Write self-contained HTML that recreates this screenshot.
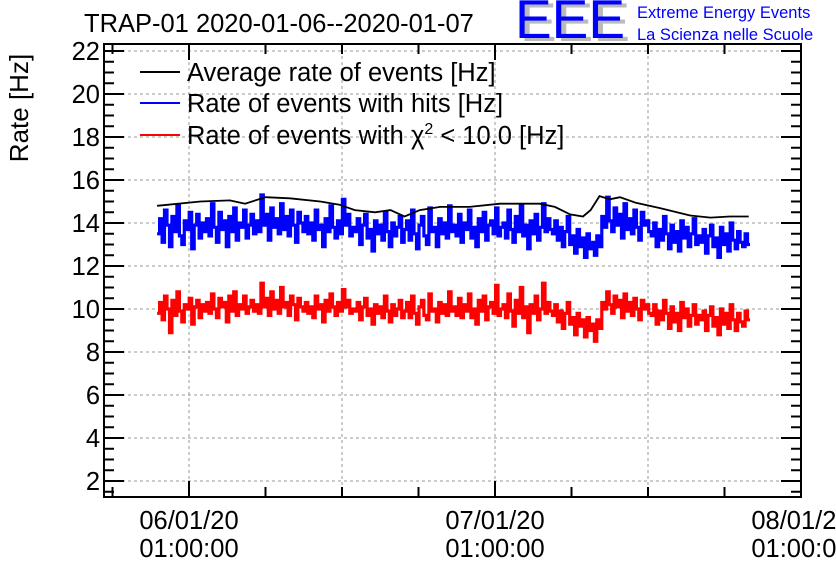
<!DOCTYPE html>
<html><head><meta charset="utf-8"><style>
body{margin:0;background:#fff;}
svg text{font-family:"Liberation Sans",sans-serif;}
</style></head><body>
<svg id="c" width="836" height="572" viewBox="0 0 836 572">
<rect x="0" y="0" width="836" height="572" fill="#fff"/>
<g id="grid"></g>
<g id="series"></g>
<g id="axes"></g>
<text x="84" y="32" font-size="25.5">TRAP-01 2020-01-06--2020-01-07</text>
<text transform="translate(28,108) rotate(-90)" font-size="26" text-anchor="middle">Rate [Hz]</text>
<g>
<text x="520" y="41" font-size="55" fill="#bbb">EEE</text>
<text x="515" y="38" font-size="55" fill="#0000ff">EEE</text>
<text x="637" y="18" font-size="16.5" fill="#0000ff">Extreme Energy Events</text>
<text x="637" y="40" font-size="16.5" fill="#0000ff">La Scienza nelle Scuole</text>
</g>
<g>
<line x1="140" y1="72" x2="180" y2="72" stroke="#000" stroke-width="2"/>
<text x="187" y="81" font-size="25.5">Average rate of events [Hz]</text>
<line x1="140" y1="103" x2="180" y2="103" stroke="#0000ff" stroke-width="2"/>
<text x="187" y="112" font-size="25.5">Rate of events with hits [Hz]</text>
<line x1="140" y1="135" x2="180" y2="135" stroke="#ff0000" stroke-width="2"/>
<text x="187" y="144" font-size="25.5">Rate of events with χ<tspan font-size="16" dy="-10">2</tspan><tspan dy="10"> &lt; 10.0 [Hz]</tspan></text>
</g>
</svg>
<script>
const yTicks=[2,4,6,8,10,12,14,16,18,20,22];
const xTickLabels=[["06/01/20","01:00:00"],["07/01/20","01:00:00"],["08/01/20","01:00:00"]];
const xTickHours=[0,24,48];
const binStart=-2.5, binEnd=44.0;
const hitsRate=[13.5,14.2,13.1,14.6,13.9,12.9,14.3,13.6,14.8,13.4,13.0,14.1,13.7,14.5,12.8,13.9,14.4,13.3,14.0,13.6,
14.2,13.4,14.9,13.8,13.1,14.5,13.7,14.1,12.9,14.3,13.6,14.7,13.2,14.0,13.8,14.6,13.3,13.9,14.4,13.5,
14.1,13.6,15.3,13.9,14.4,13.2,14.7,13.8,14.2,13.5,14.9,13.7,14.3,13.4,14.6,13.9,13.1,14.5,14.0,13.6,
14.3,13.5,14.0,13.2,14.6,13.7,13.9,12.9,14.2,13.6,14.8,13.8,13.3,14.1,13.5,15.1,13.9,14.4,13.4,13.8,
13.6,14.2,13.0,13.9,14.4,13.3,13.7,12.7,14.1,13.5,13.9,13.2,14.5,13.6,12.9,14.0,13.4,13.8,14.3,13.1,
13.7,14.1,13.2,14.6,13.5,12.8,13.9,14.3,13.4,13.0,14.7,13.6,13.8,12.9,14.2,13.5,14.0,13.3,14.8,13.6,
13.9,13.4,14.4,13.1,14.0,13.7,14.6,13.3,13.8,12.9,14.2,13.6,14.5,13.2,13.9,14.1,13.5,14.7,13.4,13.8,
14.0,13.3,14.6,13.7,13.1,14.3,13.6,14.8,13.4,13.9,12.8,14.1,13.5,14.4,13.2,13.8,14.9,13.6,14.2,13.7,
13.5,14.1,13.2,13.8,12.9,13.6,14.3,13.0,13.4,12.6,13.7,12.9,13.3,12.4,13.5,12.8,13.1,12.5,13.4,12.9,
14.3,13.8,15.2,14.1,13.6,14.7,13.9,14.4,13.3,14.9,13.7,14.2,13.5,14.6,13.8,13.2,14.5,13.9,14.1,13.6,
13.4,14.0,12.9,13.7,13.2,14.3,13.5,12.8,13.9,13.1,13.6,12.7,14.1,13.3,13.8,12.9,13.5,14.2,13.0,13.4,
13.1,13.7,12.6,13.4,13.9,12.9,13.3,12.4,13.8,13.0,13.5,12.7,14.0,13.2,12.8,13.6,13.1,12.9,13.5,13.0];
const chi2Rate=[9.8,10.3,9.5,10.6,10.0,8.9,10.4,9.7,10.8,9.9,9.4,10.2,10.0,10.5,9.3,10.1,10.4,9.6,10.2,9.9,
10.3,9.8,10.7,10.0,9.6,10.5,10.1,10.3,9.4,10.6,9.9,10.8,9.7,10.2,10.0,10.6,9.8,10.1,10.4,9.9,
10.2,9.8,11.2,10.1,10.5,9.7,10.8,10.0,10.4,9.8,11.0,10.1,10.3,9.7,10.6,10.2,9.5,10.5,10.1,9.9,
10.3,9.8,10.1,9.6,10.6,10.0,10.2,9.4,10.4,9.9,10.7,10.1,9.7,10.3,9.9,10.9,10.1,10.4,9.8,10.0,
9.9,10.3,9.5,10.1,10.5,9.7,10.0,9.3,10.2,9.8,10.1,9.6,10.6,9.9,9.4,10.2,9.7,10.0,10.4,9.6,
9.9,10.3,9.6,10.6,9.8,9.3,10.1,10.4,9.7,9.5,10.7,9.9,10.0,9.4,10.3,9.8,10.2,9.7,10.8,9.9,
10.1,9.7,10.5,9.6,10.2,9.9,10.7,9.6,10.0,9.3,10.4,9.9,10.6,9.5,10.1,10.3,9.8,11.1,9.7,10.0,
10.2,9.6,10.7,9.9,9.2,10.4,9.8,11.0,9.6,10.1,8.9,10.2,9.8,10.6,9.5,10.0,11.2,9.8,10.3,9.9,
9.7,10.2,9.4,9.9,9.1,9.8,10.3,9.3,9.6,8.8,9.8,9.2,9.5,8.7,9.6,9.0,9.3,8.5,9.5,9.1,
10.3,10.0,10.8,10.2,9.8,10.6,10.1,10.4,9.6,10.7,9.9,10.3,9.7,10.5,10.0,9.5,10.4,10.0,10.2,9.8,
9.7,10.2,9.3,9.9,9.5,10.4,9.8,9.1,10.1,9.4,9.8,9.0,10.3,9.6,10.0,9.2,9.7,10.2,9.3,9.7,
9.5,9.9,9.0,9.7,10.1,9.2,9.6,8.8,10.0,9.3,9.8,9.1,10.2,9.5,9.0,9.8,9.4,9.2,9.9,9.5];
const avgHours=[-2.5,0.9,3.2,4.4,6.0,7.9,10.3,11.8,13.0,14.6,15.8,16.9,18.1,19.7,22.0,24.4,27.5,28.7,29.9,30.9,31.5,32.2,33.0,33.8,35.0,36.9,39.3,40.9,42.4,43.9];
const avgRate=[14.8,15.0,15.05,14.9,15.2,15.15,15.0,14.85,14.6,14.5,14.6,14.3,14.6,14.75,14.75,14.9,14.9,14.75,14.4,14.3,14.6,15.25,15.1,15.2,14.95,14.7,14.35,14.25,14.3,14.3];

const NS="http://www.w3.org/2000/svg";
const L=104,R=801,T=44,B=497;
const xPx=h=>189+h*(306/24);
const yPx=v=>51+(22-v)*21.5;
function mk(tag,attrs,parent){const e=document.createElementNS(NS,tag);for(const k in attrs)e.setAttribute(k,attrs[k]);parent.appendChild(e);return e;}
const grid=document.getElementById('grid'),axes=document.getElementById('axes'),series=document.getElementById('series');
yTicks.forEach(v=>{const g=mk('line',{x1:L,x2:R,y1:yPx(v),y2:yPx(v),stroke:'#999','stroke-dasharray':'3,3','stroke-width':1},grid);

});
for(let h=0;h<=36;h+=12){const g=mk('line',{x1:xPx(h),x2:xPx(h),y1:T,y2:B,stroke:'#999','stroke-dasharray':'3,3','stroke-width':1},grid);

}
function histPath(vals){const w=(binEnd-binStart)/vals.length;let d='';vals.forEach((v,i)=>{const x0=xPx(binStart+i*w),x1=xPx(binStart+(i+1)*w),y=yPx(v);d+=(i?'L':'M')+x0.toFixed(1)+','+y.toFixed(1)+'L'+x1.toFixed(1)+','+y.toFixed(1);});return d;}
const ph=mk('path',{d:histPath(hitsRate),fill:'none',stroke:'#0000ff','stroke-width':3.2},series);


const pc=mk('path',{d:histPath(chi2Rate),fill:'none',stroke:'#ff0000','stroke-width':3.2},series);


const pa=mk('polyline',{points:avgHours.map((h,i)=>xPx(h).toFixed(1)+','+yPx(avgRate[i]).toFixed(1)).join(' '),fill:'none',stroke:'#000','stroke-width':1.8},series);


const fr=mk('rect',{x:L,y:T,width:R-L,height:B-T,fill:'none',stroke:'#000','stroke-width':2},axes);


for(let v=1.5;v<=22.3;v+=0.5){const maj=Math.abs(v/2-Math.round(v/2))<1e-6;const len=maj?20:10;const y=yPx(v);if(y<T||y>B)continue;
mk('line',{x1:L,x2:L+len,y1:y,y2:y,stroke:'#000','stroke-width':2},axes);
mk('line',{x1:R,x2:R-len,y1:y,y2:y,stroke:'#000','stroke-width':2},axes);}
yTicks.forEach(v=>{const t=mk('text',{x:100,y:yPx(v)+9,'font-size':25.5,'text-anchor':'end'},axes);t.textContent=v;

});
for(let h=-6;h<=48;h+=6){const x=xPx(h);if(x<L||x>R)continue;const len=(h%24===0)?16:10;
mk('line',{x1:x,x2:x,y1:B,y2:B-len,stroke:'#000','stroke-width':2},axes);
mk('line',{x1:x,x2:x,y1:T,y2:T+len,stroke:'#000','stroke-width':2},axes);}
xTickHours.forEach((h,i)=>{[0,1].forEach(j=>{const t=mk('text',{x:xPx(h),y:j?557:529,'font-size':25.5,'text-anchor':'middle'},axes);t.textContent=xTickLabels[i][j];

});});
</script>
</body></html>
